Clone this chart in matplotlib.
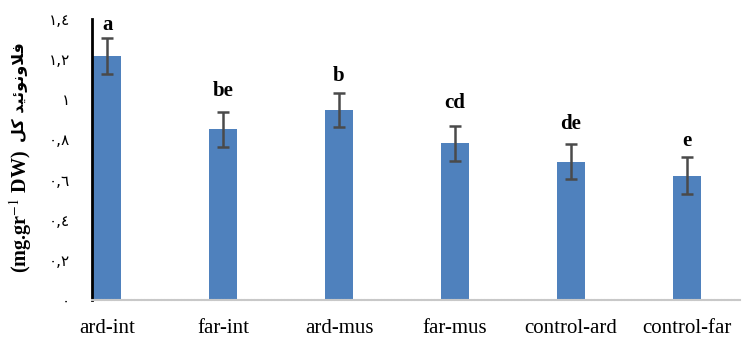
import matplotlib.pyplot as plt
import numpy as np

# total flavonoid per treatment
treatments = ["ard-int", "far-int", "ard-mus", "far-mus", "control-ard", "control-far"]
flavonoid = [1.215, 0.85, 0.945, 0.78, 0.69, 0.62]
sd = [0.088, 0.088, 0.085, 0.088, 0.087, 0.09]
groups = ["a", "be", "b", "cd", "de", "e"]

yticks = [0, 0.2, 0.4, 0.6, 0.8, 1.0, 1.2, 1.4]
ytick_labels = ["\u0660", "\u0660,\u0662", "\u0660,\u0664", "\u0660,\u0666",
                "\u0660,\u0668", "\u0661", "\u0661,\u0662", "\u0661,\u0664"]

# "فلاونوئید کل" written with presentation forms, in visual order
fa_label = "\uFEDE\uFB90 \uFEAA\uFBFF\uFE8B\uFEEE\uFEE7\uFEED\uFEFC\uFED3"

# gap (points) between error bar cap and group letter
letter_gap = [2.5, 8, 5.5, 9.5, 7, 5]

fig = plt.figure(figsize=(7.5, 3.38), dpi=100)
ax = fig.add_axes([0.1227, 0.1124, 0.8643, 0.8314])

x = np.arange(len(treatments))
ax.bar(x, flavonoid, width=0.24, color="#4F81BD", zorder=2)
ax.errorbar(x, flavonoid, yerr=sd, fmt="none", ecolor="#4a4a4a",
            elinewidth=1.8, capsize=4.5, capthick=1.8, zorder=3)

for xi, v, e, g, gap in zip(x, flavonoid, sd, groups, letter_gap):
    ax.annotate(g, (xi, v + e), xytext=(0, gap), textcoords="offset points",
                ha="center", va="bottom", fontsize=15, fontweight="bold",
                family="Liberation Serif")

ax.set_xlim(-0.13, 5.46)
ax.set_ylim(0, 1.4)
ax.set_xticks(x)
ax.set_xticklabels(treatments, family="Liberation Serif", fontsize=15)
ax.set_yticks(yticks)
ax.set_yticklabels(ytick_labels, family=["DejaVu Sans"], fontsize=11)
ax.tick_params(axis="both", length=0)
ax.tick_params(axis="y", pad=16)
ax.tick_params(axis="x", pad=14)

for s in ["top", "right"]:
    ax.spines[s].set_visible(False)
ax.spines["left"].set_linewidth(2)
ax.spines["left"].set_color("black")
ax.spines["bottom"].set_color("#c8c8c8")
ax.spines["bottom"].set_linewidth(1.5)
ax.spines["bottom"].set_linestyle((0, (1, 0.6)))

fig.text(0.027, 0.373, "(mg.gr$^{-1}$ DW)", rotation=90, ha="center",
         va="center", fontsize=14.5, fontweight="bold",
         family="Liberation Serif", math_fontfamily="stix")
fig.text(0.027, 0.728, fa_label, rotation=90, ha="center", va="center",
         fontsize=11.5, fontweight="bold", family=["DejaVu Sans"])

fig.savefig("out.png", dpi=100)
